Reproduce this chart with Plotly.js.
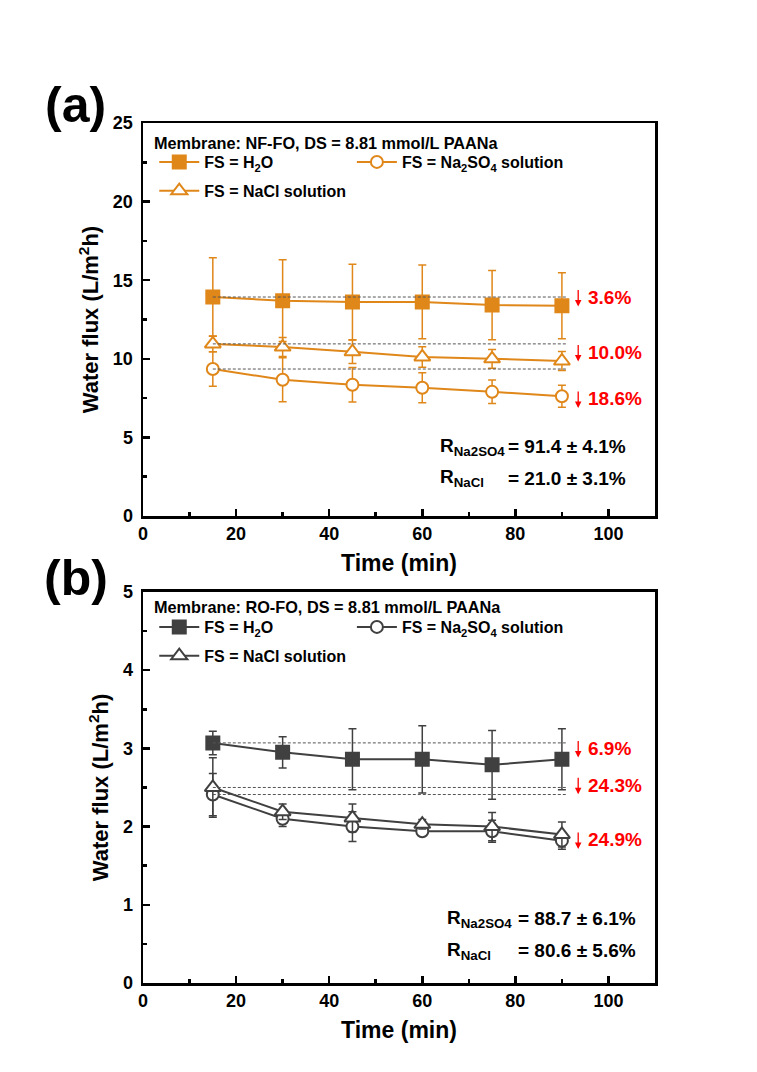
<!DOCTYPE html>
<html><head><meta charset="utf-8">
<script src="https://cdn.plot.ly/plotly-3.0.1.min.js"></script>
<style>html,body{margin:0;padding:0;background:#fff}</style>
</head><body><div id="chart" style="width:757px;height:1072px"></div>
<script>
// ---- data ----
const timeMin = [15, 30, 45, 60, 75, 90];
// panel (a): NF-FO
const aH2O = [13.93, 13.70, 13.62, 13.62, 13.42, 13.38];
const aH2OErr = [2.5, 2.6, 2.4, 2.35, 2.2, 2.1];
const aNa2SO4 = [9.35, 8.67, 8.35, 8.16, 7.90, 7.62];
const aNa2SO4Err = [1.1, 1.4, 1.1, 0.95, 0.75, 0.7];
const aNaCl = [10.95, 10.75, 10.45, 10.12, 10.0, 9.86];
const aNaClErr = [0.5, 0.6, 0.75, 0.65, 0.6, 0.6];
// panel (b): RO-FO
const bH2O = [3.07, 2.95, 2.86, 2.86, 2.79, 2.86];
const bH2OErr = [0.15, 0.2, 0.39, 0.43, 0.44, 0.39];
const bNa2SO4 = [2.41, 2.10, 2.00, 1.94, 1.94, 1.82];
const bNa2SO4Err = [0.27, 0.1, 0.19, 0.05, 0.14, 0.11];
const bNaCl = [2.50, 2.19, 2.11, 2.03, 2.00, 1.90];
const bNaClErr = [0.38, 0.1, 0.18, 0.06, 0.18, 0.16];

const seriesNames = ['FS = H<sub>2</sub>O', 'FS = Na<sub>2</sub>SO<sub>4</sub> solution', 'FS = NaCl solution'];
const legendTitles = ['Membrane: NF-FO, DS = 8.81 mmol/L PAANa', 'Membrane: RO-FO, DS = 8.81 mmol/L PAANa'];
const dropA = ['3.6%', '10.0%', '18.6%'];
const dropB = ['6.9%', '24.3%', '24.9%'];
const rejA = [['R<sub>Na2SO4</sub>', '= 91.4 ± 4.1%'], ['R<sub>NaCl</sub>', '= 21.0 ± 3.1%']];
const rejB = [['R<sub>Na2SO4</sub>', '= 88.7 ± 6.1%'], ['R<sub>NaCl</sub>', '= 80.6 ± 5.6%']];
const xTitle = 'Time (min)';
const yTitle = 'Water flux (L/m<sup>2</sup>h)';

// ---- style ----
const FONT = 'Liberation Sans, Arial, sans-serif';
const ORANGE = '#E0871A';
const GRAY = '#404040';
const symbols = [
  {symbol: 'square', fill: null, size: 13},
  {symbol: 'circle', fill: '#fff', size: 12},
  {symbol: 'triangle-up', fill: '#fff', size: 14}
];

function series(x, y, err, idx, color, xa, ya, legend) {
  const s = symbols[idx];
  return {
    x: x, y: y, type: 'scatter', mode: 'lines+markers', name: seriesNames[idx],
    xaxis: xa, yaxis: ya, legend: legend, legendgroup: legend + '_' + idx,
    line: {color: color, width: 2},
    marker: {symbol: s.symbol, size: s.size, color: s.fill || color, line: {color: color, width: 2}},
    error_y: {type: 'data', array: err, visible: true, color: color, thickness: 1.5, width: 4}
  };
}
function refLine(x, y, xa, ya) {
  return {
    x: [x[0], x[x.length - 1] + 1], y: [y[0], y[0]], type: 'scatter', mode: 'lines',
    xaxis: xa, yaxis: ya, showlegend: false, hoverinfo: 'skip',
    line: {color: '#555', width: 1, dash: '3px,2px'}
  };
}

const traces = [
  series(timeMin, aH2O, aH2OErr, 0, ORANGE, 'x', 'y', 'legend'),
  series(timeMin, aNa2SO4, aNa2SO4Err, 1, ORANGE, 'x', 'y', 'legend2'),
  series(timeMin, aNaCl, aNaClErr, 2, ORANGE, 'x', 'y', 'legend'),
  refLine(timeMin, aH2O, 'x', 'y'),
  refLine(timeMin, aNaCl, 'x', 'y'),
  refLine(timeMin, aNa2SO4, 'x', 'y'),
  series(timeMin, bH2O, bH2OErr, 0, GRAY, 'x2', 'y2', 'legend3'),
  series(timeMin, bNa2SO4, bNa2SO4Err, 1, GRAY, 'x2', 'y2', 'legend4'),
  series(timeMin, bNaCl, bNaClErr, 2, GRAY, 'x2', 'y2', 'legend3'),
  refLine(timeMin, bH2O, 'x2', 'y2'),
  refLine(timeMin, bNaCl, 'x2', 'y2'),
  refLine(timeMin, bNa2SO4, 'x2', 'y2')
];

const tickFont = {family: FONT, size: 18, weight: 'bold', color: '#000'};
const titleFont = {family: FONT, size: 23, weight: 'bold', color: '#000'};
function xAxis(anchor) {
  return {
    anchor: anchor, range: [0, 110], dtick: 20, tick0: 0,
    showline: true, linewidth: 2.5, linecolor: '#000', mirror: true,
    ticks: 'inside', ticklen: 7, tickwidth: 2.5, tickcolor: '#000',
    minor: {dtick: 10, ticks: 'inside', ticklen: 4, tickwidth: 2.5, tickcolor: '#000'},
    showgrid: false, zeroline: false, tickfont: tickFont,
    title: {text: xTitle, font: titleFont, standoff: 12}
  };
}
function yAxis(anchor, domain, range, dtick) {
  return {
    anchor: anchor, domain: domain, range: range, dtick: dtick, tick0: 0,
    showline: true, linewidth: 2.5, linecolor: '#000', mirror: true,
    ticks: 'inside', ticklen: 7, tickwidth: 2.5, tickcolor: '#000',
    minor: {dtick: dtick / 2, ticks: 'inside', ticklen: 4, tickwidth: 2.5, tickcolor: '#000'},
    showgrid: false, zeroline: false, tickfont: tickFont, ticklabelstandoff: 4,
    title: {text: yTitle, font: {family: FONT, size: 22, weight: 'bold', color: '#000'}, standoff: 8}
  };
}
const legendFont = {family: FONT, size: 16, weight: 'bold', color: '#000'};
function legendCfg(x, y) {
  return {
    x: x, y: y, xanchor: 'left', yanchor: 'top', orientation: 'v',
    bgcolor: 'rgba(0,0,0,0)', font: legendFont, itemwidth: 40,
    tracegroupgap: 5
  };
}

const annotations = [];
function addDrops(labels, ys, xa, ya) {
  labels.forEach((t, i) => {
    annotations.push({x: 93.5, y: ys[i], xref: xa, yref: ya, text: '', showarrow: true,
      ax: 0, ay: -18, yshift: -9, arrowhead: 2, arrowsize: 1, arrowwidth: 1.3, arrowcolor: '#FF0000'});
    annotations.push({x: 95.2, y: ys[i], xref: xa, yref: ya, text: t, showarrow: false,
      xanchor: 'left', yanchor: 'middle', font: {family: FONT, size: 19, weight: 'bold', color: '#FF0000'}});
  });
}
addDrops(dropA, [13.9, 10.4, 7.45], 'x', 'y');
addDrops(dropB, [3.0, 2.53, 1.83], 'x2', 'y2');
function addRej(rows, ys, xR, xEq, xa, ya) {
  rows.forEach((r, i) => {
    annotations.push({x: xR, y: ys[i], xref: xa, yref: ya, text: r[0], showarrow: false,
      xanchor: 'left', yanchor: 'middle', font: {family: FONT, size: 19, weight: 'bold', color: '#000'}});
    annotations.push({x: xEq, y: ys[i], xref: xa, yref: ya, text: r[1], showarrow: false,
      xanchor: 'left', yanchor: 'middle', font: {family: FONT, size: 19, weight: 'bold', color: '#000'}});
  });
}
addRej(rejA, [4.4, 2.4], 63.4, 78.0, 'x', 'y');
addRej(rejB, [0.82, 0.41], 64.9, 80.2, 'x2', 'y2');
// legend headings
annotations.push({x: 0.0176, y: 0.9767, xref: 'paper', yref: 'paper', text: legendTitles[0], showarrow: false,
  xanchor: 'left', yanchor: 'middle', font: {family: FONT, size: 16.3, weight: 'bold', color: '#000'}});
annotations.push({x: 0.0176, y: 0.4372, xref: 'paper', yref: 'paper', text: legendTitles[1], showarrow: false,
  xanchor: 'left', yanchor: 'middle', font: {family: FONT, size: 16.3, weight: 'bold', color: '#000'}});
// panel labels
annotations.push({x: -0.131, y: 1.021, xref: 'paper', yref: 'paper', text: '(a)', showarrow: false,
  xanchor: 'center', yanchor: 'middle', font: {family: FONT, size: 50, weight: 'bold', color: '#000'}});
annotations.push({x: -0.131, y: 0.471, xref: 'paper', yref: 'paper', text: '(b)', showarrow: false,
  xanchor: 'center', yanchor: 'middle', font: {family: FONT, size: 50, weight: 'bold', color: '#000'}});

const layout = {
  width: 757, height: 1072,
  margin: {l: 143, r: 102, t: 123, b: 89},
  paper_bgcolor: '#fff', plot_bgcolor: '#fff',
  font: {family: FONT, color: '#000'},
  xaxis: xAxis('y'),
  yaxis: yAxis('x', [0.543, 1], [0, 25], 5),
  xaxis2: xAxis('y2'),
  yaxis2: yAxis('x2', [0, 0.4547], [0, 5], 1),
  legend: legendCfg(0.022, 0.9744),
  legend2: legendCfg(0.408, 0.9744),
  legend3: legendCfg(0.022, 0.4337),
  legend4: legendCfg(0.408, 0.4337),
  annotations: annotations,
  showlegend: true
};

Plotly.newPlot('chart', traces, layout, {displayModeBar: false, staticPlot: true});
</script></body></html>
